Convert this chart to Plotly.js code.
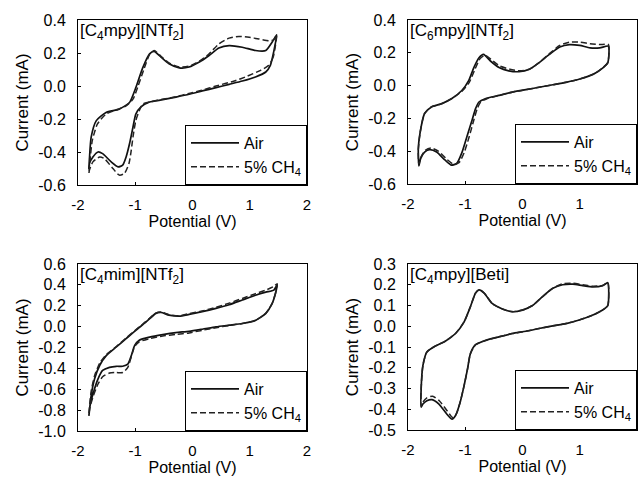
<!DOCTYPE html>
<html>
<head>
<meta charset="utf-8">
<script src="https://cdn.plot.ly/plotly-3.0.1.min.js"></script>
<style>html,body{margin:0;padding:0;background:#fff;}#chart{width:639px;height:480px;}</style>
</head>
<body>
<div id="chart"></div>
<script>
// ---------- data ----------
const panelTitles = ['[C<sub>4</sub>mpy][NTf<sub>2</sub>]', '[C<sub>6</sub>mpy][NTf<sub>2</sub>]', '[C<sub>4</sub>mim][NTf<sub>2</sub>]', '[C<sub>4</sub>mpy][Beti]'];
const seriesNames = ['Air', '5% CH<sub>4</sub>'];

const xTickVals = [-2, -1, 0, 1, 2];
const xTickText = ['-2', '-1', '0', '1', '2'];
const yTickVals1 = [-0.6, -0.4, -0.2, 0.0, 0.2, 0.4];
const yTickText1 = ['-0.6', '-0.4', '-0.2', '0.0', '0.2', '0.4'];
const yTickVals3 = [-1.0, -0.8, -0.6, -0.4, -0.2, 0.0, 0.2, 0.4, 0.6];
const yTickText3 = ['-1.0', '-0.8', '-0.6', '-0.4', '-0.2', '0.0', '0.2', '0.4', '0.6'];
const yTickVals4 = [-0.5, -0.4, -0.3, -0.2, -0.1, 0.0, 0.1, 0.2, 0.3];
const yTickText4 = ['-0.5', '-0.4', '-0.3', '-0.2', '-0.1', '0.0', '0.1', '0.2', '0.3'];

// Panel 1: [C4mpy][NTf2]
const p1AirX = [1.47,1.42,1.36,1.28,1.10,0.87,0.64,0.41,0.17,-0.06,-0.29,-0.52,-0.75,-0.90,-0.99,-1.04,-1.10,-1.16,-1.22,-1.30,-1.42,-1.57,-1.65,-1.74,-1.80,-1.81,
                -1.80,-1.77,-1.68,-1.51,-1.28,-1.10,-0.99,-0.87,-0.75,-0.67,-0.55,-0.41,-0.23,-0.06,0.12,0.29,0.46,0.64,0.87,1.10,1.28,1.39,1.47];
const p1AirY = [0.31,0.21,0.125,0.085,0.055,0.03,0.01,-0.01,-0.03,-0.05,-0.067,-0.083,-0.097,-0.127,-0.17,-0.25,-0.35,-0.43,-0.48,-0.49,-0.46,-0.41,-0.40,-0.43,-0.47,-0.50,
                -0.44,-0.31,-0.21,-0.16,-0.14,-0.10,-0.01,0.11,0.195,0.21,0.175,0.135,0.11,0.115,0.145,0.185,0.23,0.245,0.235,0.215,0.215,0.265,0.31];
const p1ChX = [1.47,1.41,1.33,1.19,0.96,0.73,0.41,0.17,-0.06,-0.29,-0.52,-0.75,-0.87,-0.93,-0.99,-1.04,-1.07,-1.11,-1.19,-1.28,-1.39,-1.54,-1.62,-1.74,-1.80,-1.81,
               -1.79,-1.75,-1.66,-1.51,-1.33,-1.16,-1.04,-0.95,-0.85,-0.75,-0.67,-0.55,-0.41,-0.23,-0.06,0.12,0.29,0.46,0.64,0.81,0.99,1.16,1.33,1.42,1.47];
const p1ChY = [0.31,0.175,0.125,0.095,0.06,0.03,0.0,-0.025,-0.045,-0.065,-0.08,-0.097,-0.11,-0.15,-0.21,-0.31,-0.39,-0.47,-0.53,-0.54,-0.50,-0.44,-0.43,-0.46,-0.51,-0.53,
               -0.45,-0.33,-0.23,-0.17,-0.145,-0.12,-0.08,0.0,0.10,0.19,0.215,0.18,0.14,0.115,0.12,0.15,0.195,0.255,0.29,0.30,0.295,0.285,0.275,0.28,0.31];

// Panel 2: [C6mpy][NTf2]
const p2AirX = [1.50,1.49,1.41,1.24,1.0,0.76,0.53,0.29,0.06,-0.18,-0.41,-0.65,-0.76,-0.82,-0.88,-0.97,-1.06,-1.15,-1.24,-1.35,-1.5,-1.62,-1.71,-1.78,-1.81,
                -1.82,-1.79,-1.71,-1.59,-1.41,-1.24,-1.06,-0.94,-0.85,-0.76,-0.68,-0.56,-0.41,-0.24,-0.06,0.12,0.29,0.47,0.65,0.82,1.0,1.18,1.35,1.5];
const p2AirY = [0.24,0.14,0.11,0.07,0.04,0.02,0.005,-0.01,-0.025,-0.04,-0.06,-0.08,-0.10,-0.14,-0.21,-0.31,-0.41,-0.475,-0.485,-0.455,-0.405,-0.39,-0.405,-0.445,-0.49,
                -0.39,-0.29,-0.17,-0.13,-0.11,-0.08,-0.03,0.03,0.11,0.17,0.19,0.15,0.11,0.09,0.085,0.10,0.14,0.19,0.235,0.25,0.245,0.23,0.23,0.24];
const p2ChX = [1.50,1.49,1.41,1.24,1.0,0.76,0.53,0.29,0.06,-0.18,-0.41,-0.62,-0.73,-0.79,-0.85,-0.93,-1.02,-1.11,-1.2,-1.32,-1.47,-1.6,-1.7,-1.78,-1.81,
               -1.82,-1.79,-1.71,-1.59,-1.41,-1.24,-1.06,-0.93,-0.83,-0.74,-0.66,-0.55,-0.40,-0.22,-0.04,0.12,0.29,0.47,0.65,0.82,1.0,1.18,1.35,1.5];
const p2ChY = [0.25,0.14,0.11,0.07,0.04,0.02,0.005,-0.01,-0.025,-0.04,-0.06,-0.08,-0.10,-0.14,-0.21,-0.31,-0.41,-0.47,-0.48,-0.45,-0.40,-0.38,-0.395,-0.44,-0.48,
               -0.39,-0.29,-0.17,-0.13,-0.11,-0.08,-0.035,0.02,0.10,0.165,0.185,0.16,0.12,0.10,0.09,0.10,0.14,0.195,0.245,0.265,0.265,0.255,0.25,0.25];

// Panel 3: [C4mim][NTf2]
const p3AirX = [1.48,1.45,1.39,1.28,1.10,0.87,0.64,0.41,0.17,-0.06,-0.29,-0.52,-0.75,-0.93,-1.01,-1.07,-1.13,-1.22,-1.33,-1.45,-1.57,-1.65,-1.73,-1.79,-1.81,
                -1.77,-1.71,-1.62,-1.51,-1.33,-1.16,-0.99,-0.81,-0.64,-0.55,-0.41,-0.23,-0.06,0.17,0.41,0.64,0.87,1.10,1.28,1.42,1.48];
const p3AirY = [0.40,0.32,0.22,0.127,0.06,0.03,0.014,-0.002,-0.025,-0.045,-0.057,-0.076,-0.10,-0.13,-0.18,-0.28,-0.36,-0.38,-0.38,-0.39,-0.42,-0.50,-0.63,-0.76,-0.855,
                -0.66,-0.50,-0.37,-0.28,-0.195,-0.115,-0.035,0.045,0.127,0.136,0.11,0.10,0.117,0.143,0.175,0.21,0.255,0.30,0.33,0.35,0.40];
const p3ChX = [1.48,1.45,1.39,1.28,1.10,0.87,0.64,0.41,0.17,-0.06,-0.29,-0.52,-0.75,-0.93,-1.01,-1.07,-1.13,-1.22,-1.33,-1.45,-1.57,-1.65,-1.73,-1.79,-1.81,
               -1.77,-1.71,-1.62,-1.51,-1.33,-1.16,-0.99,-0.81,-0.64,-0.55,-0.41,-0.23,-0.06,0.17,0.41,0.64,0.87,1.10,1.28,1.42,1.48];
const p3ChY = [0.41,0.32,0.22,0.127,0.06,0.03,0.01,-0.01,-0.035,-0.06,-0.075,-0.09,-0.115,-0.145,-0.19,-0.29,-0.39,-0.44,-0.44,-0.445,-0.48,-0.55,-0.66,-0.77,-0.84,
               -0.62,-0.47,-0.35,-0.27,-0.19,-0.11,-0.03,0.05,0.13,0.14,0.115,0.105,0.125,0.15,0.185,0.225,0.27,0.315,0.35,0.385,0.41];

// Panel 4: [C4mpy][Beti]
const p4AirX = [1.49,1.49,1.40,1.23,0.99,0.76,0.53,0.29,0.06,-0.18,-0.41,-0.64,-0.82,-0.91,-0.96,-1.02,-1.09,-1.17,-1.23,-1.32,-1.46,-1.58,-1.67,-1.74,-1.77,
                -1.77,-1.74,-1.67,-1.52,-1.35,-1.17,-1.02,-0.91,-0.82,-0.76,-0.67,-0.53,-0.35,-0.18,0.0,0.175,0.35,0.53,0.70,0.88,1.05,1.23,1.40,1.49];
const p4AirY = [0.21,0.10,0.078,0.054,0.03,0.013,0.002,-0.011,-0.024,-0.035,-0.051,-0.068,-0.089,-0.132,-0.205,-0.286,-0.367,-0.43,-0.448,-0.424,-0.375,-0.354,-0.359,-0.375,-0.39,
                -0.30,-0.19,-0.124,-0.095,-0.072,-0.035,0.021,0.094,0.16,0.175,0.16,0.11,0.083,0.07,0.078,0.10,0.143,0.183,0.20,0.203,0.196,0.19,0.196,0.21];
const p4ChX = [1.49,1.49,1.40,1.23,0.99,0.76,0.53,0.29,0.06,-0.18,-0.41,-0.64,-0.82,-0.91,-0.96,-1.02,-1.09,-1.16,-1.22,-1.31,-1.45,-1.57,-1.67,-1.74,-1.77,
               -1.77,-1.74,-1.67,-1.52,-1.35,-1.17,-1.02,-0.91,-0.82,-0.76,-0.67,-0.53,-0.35,-0.18,0.0,0.175,0.35,0.53,0.70,0.88,1.05,1.23,1.40,1.49];
const p4ChY = [0.21,0.10,0.078,0.054,0.03,0.013,0.002,-0.011,-0.024,-0.035,-0.051,-0.068,-0.089,-0.132,-0.205,-0.286,-0.367,-0.425,-0.44,-0.41,-0.36,-0.337,-0.345,-0.365,-0.385,
               -0.30,-0.19,-0.124,-0.095,-0.072,-0.035,0.021,0.094,0.16,0.175,0.16,0.11,0.083,0.07,0.078,0.10,0.143,0.183,0.205,0.207,0.20,0.193,0.196,0.21];

// ---------- figure ----------
const W = 639, H = 480;
const FONT = 'Liberation Sans, Arial, sans-serif';
const panels = [
  {ax: '', airX: p1AirX, airY: p1AirY, chX: p1ChX, chY: p1ChY, yr: [-0.6, 0.4], tv: yTickVals1, tt: yTickText1, px: [78, 307], py: [20, 185]},
  {ax: '2', airX: p2AirX, airY: p2AirY, chX: p2ChX, chY: p2ChY, yr: [-0.6, 0.4], tv: yTickVals1, tt: yTickText1, px: [408, 637], py: [20, 184]},
  {ax: '3', airX: p3AirX, airY: p3AirY, chX: p3ChX, chY: p3ChY, yr: [-1.0, 0.6], tv: yTickVals3, tt: yTickText3, px: [78, 307], py: [264, 431]},
  {ax: '4', airX: p4AirX, airY: p4AirY, chX: p4ChX, chY: p4ChY, yr: [-0.5, 0.3], tv: yTickVals4, tt: yTickText4, px: [408, 637], py: [264, 430]}
];

const traces = [];
const layout = {
  width: W, height: H,
  margin: {l: 0, r: 0, t: 0, b: 0},
  paper_bgcolor: '#fff', plot_bgcolor: '#fff',
  font: {family: FONT, size: 16, color: '#000'},
  annotations: []
};

panels.forEach((p, i) => {
  const xa = 'x' + p.ax, ya = 'y' + p.ax;
  const lg = 'legend' + p.ax;
  traces.push({
    x: p.airX, y: p.airY, xaxis: xa, yaxis: ya, type: 'scatter', mode: 'lines',
    name: seriesNames[0], legend: lg,
    line: {color: '#111', width: 1.7, shape: 'spline', smoothing: 0.6}
  });
  traces.push({
    x: p.chX, y: p.chY, xaxis: xa, yaxis: ya, type: 'scatter', mode: 'lines',
    name: seriesNames[1], legend: lg,
    line: {color: '#222', width: 1.5, dash: '6px,3px', shape: 'spline', smoothing: 0.6}
  });
  const xdom = [p.px[0] / W, p.px[1] / W];
  const ydom = [1 - p.py[1] / H, 1 - p.py[0] / H];
  const axCommon = {
    showline: true, linecolor: '#000', linewidth: 1, mirror: true,
    showgrid: false, zeroline: false, ticks: 'inside', ticklen: 3, tickcolor: '#000',
    tickfont: {family: FONT, size: 16, color: '#000'}
  };
  layout['xaxis' + p.ax] = Object.assign({}, axCommon, {
    domain: xdom, range: [-2, 2], anchor: ya,
    tickvals: xTickVals, ticktext: xTickText, ticklabelstandoff: 6,
    tickfont: {family: FONT, size: 15, color: '#000'},
    title: {text: 'Potential (V)', font: {family: FONT, size: 16, color: '#000'}, standoff: 0}
  });
  layout['yaxis' + p.ax] = Object.assign({}, axCommon, {
    domain: ydom, range: p.yr, anchor: xa,
    tickvals: p.tv, ticktext: p.tt, ticklabelstandoff: 8,
    title: {text: 'Current (mA)', font: {family: FONT, size: 17, color: '#000'}, standoff: 5}
  });
  layout[lg] = {
    x: xdom[1], y: ydom[0], xanchor: 'right', yanchor: 'bottom',
    bgcolor: '#fff', bordercolor: '#000', borderwidth: 1,
    font: {family: FONT, size: 16, color: '#000'}, tracegroupgap: 0,
    itemwidth: 48
  };
  layout.annotations.push({
    text: panelTitles[i], xref: xa + ' domain', yref: ya + ' domain',
    x: 0.0, y: 1.0, xanchor: 'left', yanchor: 'top', showarrow: false,
    font: {family: FONT, size: 17, color: '#000'}, xshift: 0, yshift: 1
  });
});

Plotly.newPlot('chart', traces, layout, {staticPlot: true, displayModeBar: false});
</script>
</body>
</html>
